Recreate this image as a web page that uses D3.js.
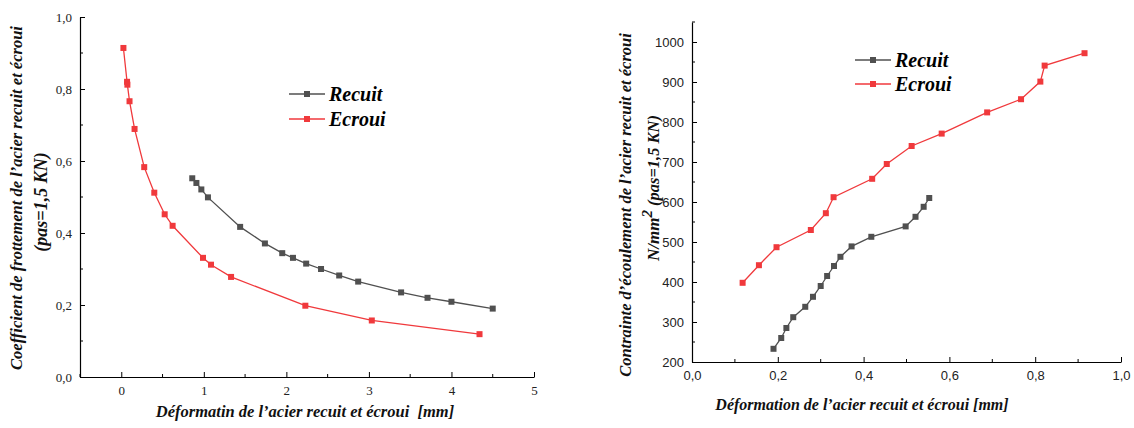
<!DOCTYPE html>
<html>
<head>
<meta charset="utf-8">
<script src="https://cdn.jsdelivr.net/npm/d3@7"></script>
<style>
  body { margin: 0; background: #fff; }
  svg { display: block; }
  .serif { font-family: "Liberation Serif", "Times New Roman", serif; }
  .sans { font-family: "Liberation Sans", Arial, sans-serif; }
</style>
</head>
<body>
<div id="chart"></div>
<script>
// left chart: friction coefficient vs deformation
const leftRecuitX = [0.86, 0.91, 0.97, 1.05, 1.44, 1.74, 1.95, 2.08, 2.24, 2.42, 2.64, 2.87, 3.39, 3.71, 4.0, 4.5];
const leftRecuitY = [0.552, 0.539, 0.521, 0.499, 0.417, 0.371, 0.344, 0.331, 0.315, 0.300, 0.282, 0.265, 0.235, 0.220, 0.209, 0.190];
const leftEcrouiX = [0.026, 0.07, 0.074, 0.10, 0.161, 0.278, 0.40, 0.526, 0.622, 0.99, 1.087, 1.33, 2.23, 3.035, 4.34];
const leftEcrouiY = [0.914, 0.820, 0.812, 0.766, 0.689, 0.583, 0.512, 0.452, 0.420, 0.331, 0.312, 0.278, 0.198, 0.157, 0.119];

// right chart: flow stress vs deformation
const rightRecuitX = [0.190, 0.208, 0.220, 0.236, 0.264, 0.282, 0.300, 0.315, 0.331, 0.346, 0.372, 0.418, 0.498, 0.521, 0.540, 0.553];
const rightRecuitY = [233, 260, 285, 312, 338, 363, 390, 415, 440, 463, 489, 513, 539, 563, 588, 610];
const rightEcrouiX = [0.118, 0.156, 0.197, 0.277, 0.312, 0.330, 0.420, 0.454, 0.512, 0.582, 0.688, 0.767, 0.812, 0.822, 0.915];
const rightEcrouiY = [398, 442, 487, 530, 572, 612, 658, 695, 740, 771, 824, 857, 901, 941, 972];

const leftXTicks = [0, 1, 2, 3, 4, 5];
const leftYTicks = [0, 0.2, 0.4, 0.6, 0.8, 1.0];
const rightXTicks = [0, 0.2, 0.4, 0.6, 0.8, 1.0];
const rightYTicks = [200, 300, 400, 500, 600, 700, 800, 900, 1000];

const seriesNames = ['Recuit', 'Ecroui'];
const seriesColors = ['#505050', '#f0393c'];

const width = 1134, height = 428;
const svg = d3.select('#chart').append('svg')
  .attr('width', width)
  .attr('height', height);

const comma = d => d3.format('.1f')(d).replace('.', ',');

function drawPanel(opts) {
  const { x, y, series, xTicks, xMinor, yTicks, yMinor, xFmt, yFmt, fontClass, legend } = opts;
  const g = svg.append('g');

  // bottom axis (ticks inward)
  const xAxis = g.append('g')
    .attr('transform', `translate(0,${y.range()[0]})`)
    .call(d3.axisBottom(x).tickValues(xTicks).tickFormat(xFmt).tickSizeInner(-5).tickSizeOuter(0).tickPadding(9));
  xAxis.append('g').selectAll('line').data(xMinor).join('line')
    .attr('x1', d => x(d)).attr('x2', d => x(d)).attr('y1', 0).attr('y2', -3)
    .attr('stroke', '#000');

  // left axis (ticks inward)
  const yAxis = g.append('g')
    .attr('transform', `translate(${x.range()[0]},0)`)
    .call(d3.axisLeft(y).tickValues(yTicks).tickFormat(yFmt).tickSizeInner(-5).tickSizeOuter(0).tickPadding(8));
  yAxis.append('g').selectAll('line').data(yMinor).join('line')
    .attr('y1', d => y(d)).attr('y2', d => y(d)).attr('x1', 0).attr('x2', 3)
    .attr('stroke', '#000');

  [xAxis, yAxis].forEach(a => {
    a.select('.domain').attr('stroke', '#000').attr('stroke-width', 1.2);
    a.selectAll('.tick line').attr('stroke', '#000');
    a.selectAll('text').attr('class', fontClass).style('font-size', '13px').attr('fill', '#222');
  });

  const line = d3.line().x(d => x(d[0])).y(d => y(d[1]));
  series.forEach((s, i) => {
    const pts = s.xs.map((v, j) => [v, s.ys[j]]);
    g.append('path').datum(pts)
      .attr('d', line)
      .attr('fill', 'none')
      .attr('stroke', seriesColors[i])
      .attr('stroke-width', 1.3);
    g.append('g').selectAll('rect').data(pts).join('rect')
      .attr('x', d => x(d[0]) - 3)
      .attr('y', d => y(d[1]) - 3)
      .attr('width', 6).attr('height', 6)
      .attr('fill', seriesColors[i]);
  });

  // legend
  seriesNames.forEach((name, i) => {
    const ly = legend.y + i * legend.dy;
    g.append('line')
      .attr('x1', legend.x).attr('x2', legend.x + 36)
      .attr('y1', ly).attr('y2', ly)
      .attr('stroke', seriesColors[i]).attr('stroke-width', 1.3);
    g.append('rect')
      .attr('x', legend.x + 15).attr('y', ly - 3)
      .attr('width', 6).attr('height', 6)
      .attr('fill', seriesColors[i]);
    g.append('text')
      .attr('class', 'serif')
      .attr('x', legend.x + 40).attr('y', ly + 7)
      .style('font-size', '20px').style('font-weight', 'bold').style('font-style', 'italic')
      .text(name);
  });
  return g;
}

// left panel
const xL = d3.scaleLinear().domain([-0.5, 5]).range([80, 534]);
const yL = d3.scaleLinear().domain([0, 1]).range([377, 17]);
const gL = drawPanel({
  x: xL, y: yL,
  series: [{ xs: leftRecuitX, ys: leftRecuitY }, { xs: leftEcrouiX, ys: leftEcrouiY }],
  xTicks: leftXTicks, xMinor: [-0.5, 0.5, 1.5, 2.5, 3.5, 4.5],
  yTicks: leftYTicks, yMinor: [0.1, 0.3, 0.5, 0.7, 0.9],
  xFmt: d3.format('d'), yFmt: comma, fontClass: 'serif',
  legend: { x: 289, y: 94, dy: 25 }
});

function title(g, txt, x, y, rot, size) {
  return g.append('text')
    .attr('class', 'serif')
    .attr('text-anchor', 'middle')
    .attr('transform', `translate(${x},${y})` + (rot ? ' rotate(-90)' : ''))
    .style('font-size', size + 'px').style('font-weight', 'bold').style('font-style', 'italic')
    .style('white-space', 'pre')
    .attr('fill', '#111')
    .text(txt);
}

title(gL, 'Déformatin de l\u2019acier recuit et écroui  [mm]', 305, 417, false, 16.5);
title(gL, 'Coefficient de frottement de l\u2019acier recuit et écroui', 22, 198, true, 16.5);
title(gL, '(pas=1,5 KN)', 47, 202, true, 18);

// right panel
const xR = d3.scaleLinear().domain([0, 1]).range([692, 1121]);
const yR = d3.scaleLinear().domain([200, 1050]).range([362, 22]);
const gR = drawPanel({
  x: xR, y: yR,
  series: [{ xs: rightRecuitX, ys: rightRecuitY }, { xs: rightEcrouiX, ys: rightEcrouiY }],
  xTicks: rightXTicks, xMinor: [0.1, 0.3, 0.5, 0.7, 0.9],
  yTicks: rightYTicks, yMinor: [250, 350, 450, 550, 650, 750, 850, 950, 1050],
  xFmt: comma, yFmt: d3.format('d'), fontClass: 'sans',
  legend: { x: 855, y: 60, dy: 24 }
});

title(gR, 'Déformation de l\u2019acier recuit et écroui [mm]', 862, 410, false, 16);
title(gR, 'Contrainte d\u2019écoulement de l\u2019acier recuit et écroui', 631, 205, true, 16.5);
const t2 = gR.append('text')
  .attr('class', 'serif')
  .attr('text-anchor', 'middle')
  .attr('transform', 'translate(659,188) rotate(-90)')
  .style('font-weight', 'bold').style('font-style', 'italic')
  .attr('fill', '#111');
t2.append('tspan').style('font-size', '17px').text('N/mm');
t2.append('tspan').style('font-size', '15px').attr('dy', -7).text('2');
t2.append('tspan').style('font-size', '16.5px').attr('dy', 7).text(' (pas=1,5 KN)');
</script>
</body>
</html>
